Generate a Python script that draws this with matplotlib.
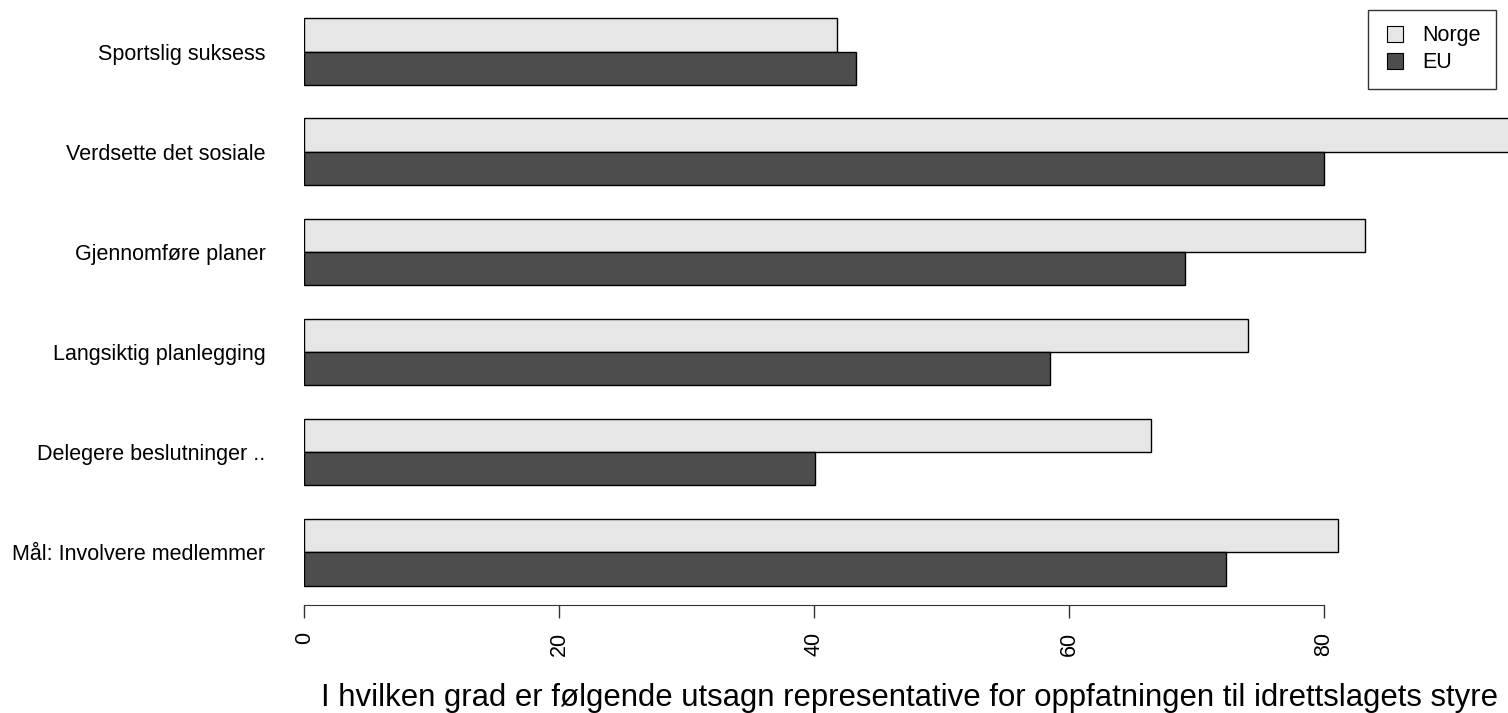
import matplotlib
matplotlib.use('Agg')
import matplotlib.pyplot as plt
from matplotlib.lines import Line2D
import numpy as np

# kategorier, ovenfra og ned
kategorier = ['Sportslig suksess', 'Verdsette det sosiale', 'Gjennomføre planer',
              'Langsiktig planlegging', 'Delegere beslutninger ..', 'Mål: Involvere medlemmer']
norge = [41.8, 95.5, 83.2, 74.0, 66.4, 81.1]
eu = [43.3, 80.0, 69.1, 58.5, 40.1, 72.3]
xticks = [0, 20, 40, 60, 80]
tittel = 'I hvilken grad er følgende utsagn representative for oppfatningen til idrettslagets styre'

farge_no = '#e6e6e6'
farge_eu = '#4d4d4d'

plt.rcParams['font.family'] = ['Liberation Sans', 'DejaVu Sans']

W, H = 1508, 713
fig = plt.figure(figsize=(W / 100, H / 100), dpi=100)

# plotområdet (piksler fra venstre/topp)
venstre, bunn_px = 304.3, 605
ax = fig.add_axes([venstre / W, (H - bunn_px) / H, 1 - venstre / W, bunn_px / H])

n = len(kategorier)
# R-stil: første gruppe nederst, space=c(0,1)
idx = np.arange(n)[::-1]          # Sportslig øverst
y_eu = 1.5 + 3 * idx
y_no = 2.5 + 3 * idx

ax.barh(y_no, norge, height=1, color=farge_no, edgecolor='black', linewidth=1)
ax.barh(y_eu, eu, height=1, color=farge_eu, edgecolor='black', linewidth=1)

px_per_enhet = 12.746
ax.set_xlim(0, (W - venstre) / px_per_enhet)
ax.set_ylim(18 - (bunn_px - 18.3) / 33.37, 18 + 18.3 / 33.37)

for s in ['top', 'right', 'left']:
  ax.spines[s].set_visible(False)
ax.spines['bottom'].set_bounds(0, 80)
ax.spines['bottom'].set_color('#333333')

ax.set_xticks(xticks)
ax.set_xticklabels([str(t) for t in xticks], rotation=90, fontsize=15.5)
ax.tick_params(axis='x', length=9.4, width=1, color='#333333', pad=10)

ax.set_yticks(2 + 3 * idx)
ax.set_yticklabels(kategorier, fontsize=15.5)
ax.tick_params(axis='y', length=0, pad=28)

fig.text(909.5 / W, (H - 706) / H, tittel, ha='center', va='baseline', fontsize=22.4)

# legende med små firkanter
handles = [Line2D([], [], linestyle='none', marker='s', markersize=11.5,
                  markerfacecolor=farge_no, markeredgecolor='black', markeredgewidth=0.8),
           Line2D([], [], linestyle='none', marker='s', markersize=11.5,
                  markerfacecolor=farge_eu, markeredgecolor='black', markeredgewidth=0.8)]
leg = fig.legend(handles, ['Norge', 'EU'], loc='upper right',
                 bbox_to_anchor=(1496 / W, 1 - 10 / H),
                 fontsize=15.5, frameon=True, fancybox=False, edgecolor='black',
                 handlelength=1.05, handletextpad=0.72,
                 labelspacing=0.27, borderpad=0.72, borderaxespad=0)
leg.get_frame().set_linewidth(1)

fig.savefig('out.png', dpi=100)
